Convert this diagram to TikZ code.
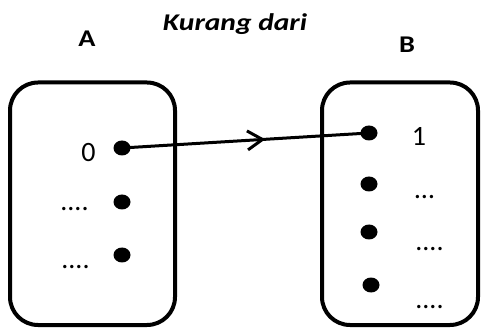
\documentclass[tikz,border=0pt]{standalone}
\usepackage{graphicx}
\usepackage{fontspec}
\setmainfont{Carlito}
\usetikzlibrary{shapes.geometric,arrows.meta,decorations.markings}
\tikzset{
  setbox/.style={draw, line width=4pt, rounded corners=28pt, inner sep=0pt},
  elem/.style={ellipse, fill=black, minimum width=17pt, minimum height=15pt, inner sep=0pt},
  lbl/.style={anchor=base, inner sep=0pt, font=\fontsize{28}{33}\selectfont},
  head/.style={anchor=base, inner sep=0pt, font=\fontsize{24}{28}\selectfont\bfseries},
  maplink/.style={line width=3pt, postaction={decorate}, decoration={markings,
    mark=at position 0.58 with {\arrow{Straight Barb[length=15pt,width=19pt,line width=3pt]}}}}
}
\begin{document}
\begin{tikzpicture}[x=1pt,y=1pt]
\useasboundingbox (0,0) rectangle (481,329);
% headings
\node[head, font=\fontsize{24}{28}\selectfont\bfseries\itshape] (title) at (235,298.3) {\scalebox{1.23}[1]{Kurang dari}};
\node[head] (hA) at (87,282.3) {\scalebox{1.18}[1]{A}};
\node[head] (hB) at (407,276) {\scalebox{1.18}[1]{B}};
% sets
\node[setbox, minimum width=165pt, minimum height=242.5pt] (A) at (92.5,125.25) {};
\node[setbox, minimum width=156pt, minimum height=242.5pt] (B) at (400,125.25) {};
% elements of A
\node[elem] (a1) at (122,181) {};
\node[elem] (a2) at (122,127) {};
\node[elem] (a3) at (122,74) {};
\node[lbl] (la1) at (88.5,167) {0};
\node[lbl] (la2) at (74.5,118.5) {....};
\node[lbl] (la3) at (75.5,60.5) {....};
% elements of B
\node[elem] (b1) at (369,196) {};
\node[elem] (b2) at (369,145) {};
\node[elem] (b3) at (369,97) {};
\node[elem] (b4) at (371,44) {};
\node[lbl] (lb1) at (419,183) {1};
\node[lbl] (lb2) at (424.5,130.5) {…};
\node[lbl] (lb3) at (429.5,78.5) {....};
\node[lbl] (lb4) at (429.5,20.5) {....};
% mapping
\draw[maplink] (a1.center) -- (b1.center);
\end{tikzpicture}
\end{document}
